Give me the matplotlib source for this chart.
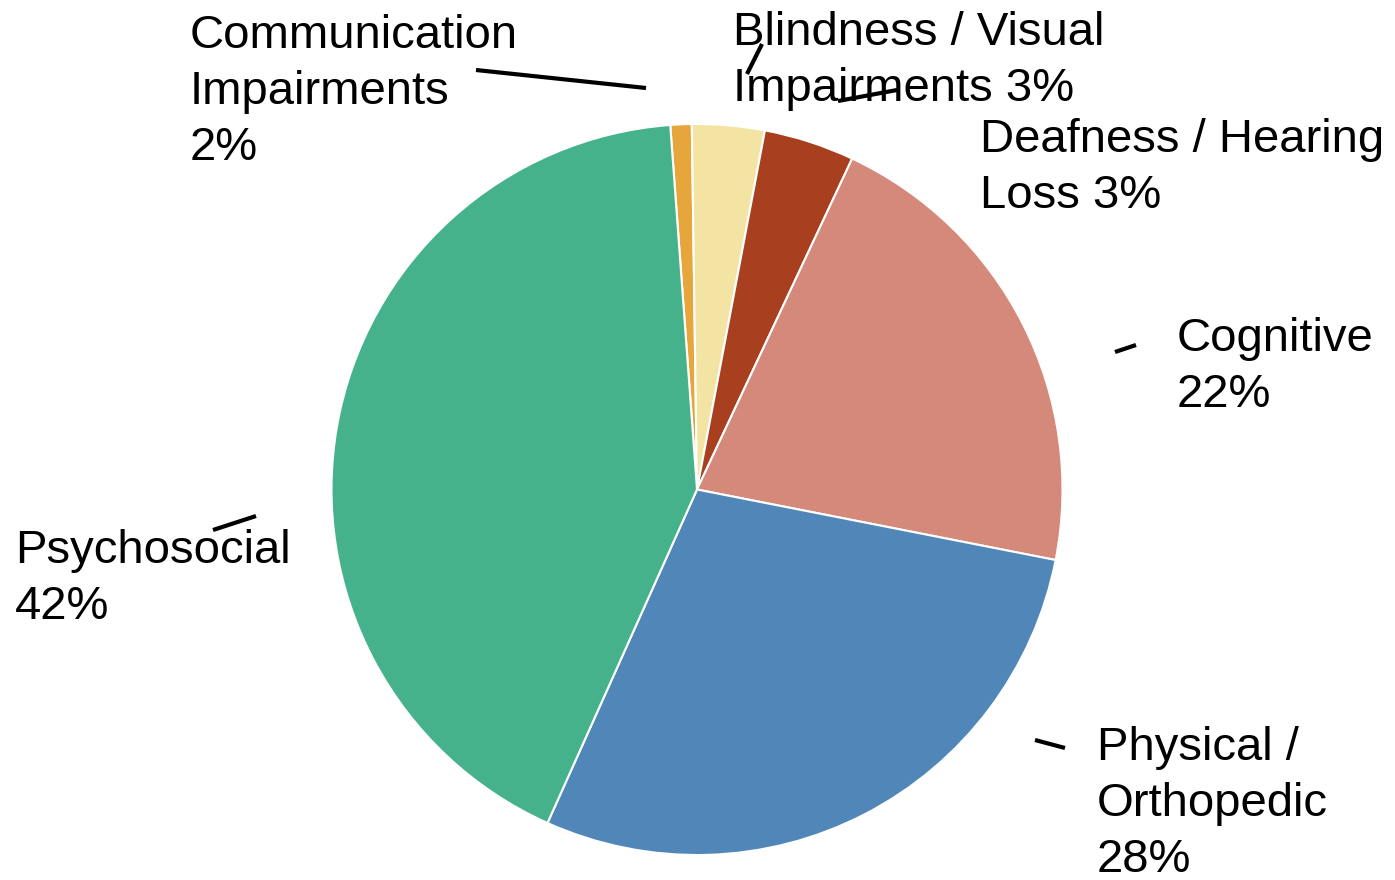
import numpy as np
import matplotlib.pyplot as plt

# slice sizes as drawn (percent), printed labels
categories = ["Communication Impairments", "Blindness / Visual Impairments",
              "Deafness / Hearing Loss", "Cognitive", "Physical / Orthopedic",
              "Psychosocial"]
slice_values = [0.94, 3.2, 4.0, 21.1, 28.6, 42.1]
label_lines = [
    ["Communication", "Impairments", "2%"],
    ["Blindness / Visual", "Impairments 3%"],
    ["Deafness / Hearing", "Loss 3%"],
    ["Cognitive", "22%"],
    ["Physical /", "Orthopedic", "28%"],
    ["Psychosocial", "42%"],
]
colors = ["#E6A63B", "#F3E4A4", "#A8401F", "#D4897A", "#5087B8", "#46B28C"]

W, H = 1395, 880
# label anchor (left x, first baseline y) in pixels from top-left
label_pos = [(190, 48), (733, 45), (980, 152), (1177, 351), (1097, 760), (15, 563)]
line_step = 56
# short leader strokes (pixels from top-left)
leaders = [((476, 70), (646, 88)), ((762, 44), (747, 74)), ((838, 101), (897, 90)),
           ((1115, 352), (1136, 345)), ((1035, 740), (1065, 748)),
           ((213, 530), (256, 516))]

plt.rcParams['font.family'] = ['Liberation Sans', 'DejaVu Sans']

fig = plt.figure(figsize=(W / 100, H / 100), dpi=100)
ax = fig.add_axes([0, 0, 1, 1])

ax.pie(slice_values, colors=colors, startangle=94.2, counterclock=False,
       center=(697, H - 489.5), radius=365.5,
       wedgeprops=dict(edgecolor='white', linewidth=1.5))

for lines, (lx, ly) in zip(label_lines, label_pos):
    for i, txt in enumerate(lines):
        ax.text(lx, H - (ly + i * line_step), txt, fontsize=34,
                ha='left', va='baseline', color='black')

for (x0, y0), (x1, y1) in leaders:
    ax.plot([x0, x1], [H - y0, H - y1], color='black', lw=3,
            solid_capstyle='butt')

ax.set_xlim(0, W)
ax.set_ylim(0, H)
ax.set_aspect('equal')
ax.axis('off')

fig.savefig('out.png', dpi=100)
